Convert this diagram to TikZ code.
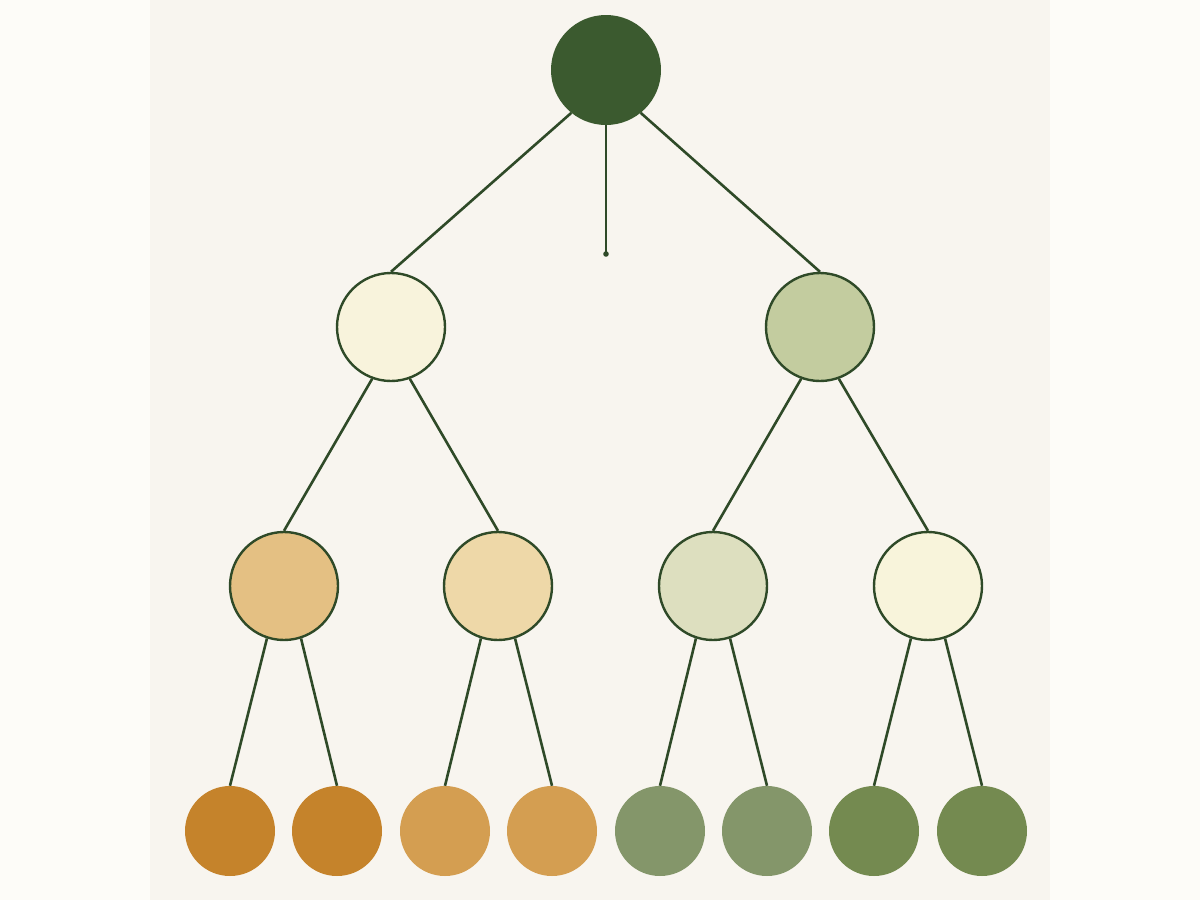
\documentclass[tikz,border=0pt]{standalone}
\begin{document}
\begin{tikzpicture}[x=1pt,y=-1pt,
  edge/.style={draw=lineg,line width=2.6pt},
  mid/.style={circle,draw=lineg,line width=2.4pt,minimum size=108pt,inner sep=0pt},
  leaf/.style={circle,draw=none,minimum size=90pt,inner sep=0pt}]
\definecolor{outerbg}{HTML}{FDFCF8}
\definecolor{innerbg}{HTML}{F8F5EF}
\definecolor{lineg}{HTML}{2F4A28}
\definecolor{rootc}{HTML}{3B5A2F}
\definecolor{cA}{HTML}{F8F3DC}
\definecolor{cB}{HTML}{C3CC9F}
\definecolor{cC}{HTML}{E4C083}
\definecolor{cD}{HTML}{EED8A8}
\definecolor{cE}{HTML}{DDDFBF}
\definecolor{cF}{HTML}{F8F4DB}
\definecolor{lA}{HTML}{C5832B}
\definecolor{lB}{HTML}{D49E51}
\definecolor{lC}{HTML}{84966A}
\definecolor{lD}{HTML}{748A50}
\fill[outerbg] (0,0) rectangle (1200,900);
\fill[innerbg] (150,0) rectangle (1050,900);
\useasboundingbox (0,0) rectangle (1200,900);
% nodes
\node[circle,fill=rootc,draw=none,minimum size=110pt,inner sep=0pt] (root) at (606,70) {};
\node[mid,fill=cA] (l) at (391,327) {};
\node[mid,fill=cB] (r) at (820,327) {};
\node[mid,fill=cC] (a) at (284,586) {};
\node[mid,fill=cD] (b) at (498,586) {};
\node[mid,fill=cE] (c) at (713,586) {};
\node[mid,fill=cF] (d) at (928,586) {};
\node[leaf,fill=lA] (a1) at (230,831) {};
\node[leaf,fill=lA] (a2) at (337,831) {};
\node[leaf,fill=lB] (b1) at (445,831) {};
\node[leaf,fill=lB] (b2) at (552,831) {};
\node[leaf,fill=lC] (c1) at (660,831) {};
\node[leaf,fill=lC] (c2) at (767,831) {};
\node[leaf,fill=lD] (d1) at (874,831) {};
\node[leaf,fill=lD] (d2) at (982,831) {};
\coordinate (stub) at (606,254);
% edges
\draw[edge] (root.231) -- (l.north);
\draw[edge] (root.309) -- (r.north);
\draw[edge] (root.south) -- (stub);
\fill[lineg] (stub) circle (2.8pt);
\draw[edge] (l.250) -- (a.north);
\draw[edge] (l.290) -- (b.north);
\draw[edge] (r.250) -- (c.north);
\draw[edge] (r.290) -- (d.north);
\draw[edge] (a.252) -- (a1.north);
\draw[edge] (a.288) -- (a2.north);
\draw[edge] (b.252) -- (b1.north);
\draw[edge] (b.288) -- (b2.north);
\draw[edge] (c.252) -- (c1.north);
\draw[edge] (c.288) -- (c2.north);
\draw[edge] (d.252) -- (d1.north);
\draw[edge] (d.288) -- (d2.north);
\end{tikzpicture}
\end{document}
